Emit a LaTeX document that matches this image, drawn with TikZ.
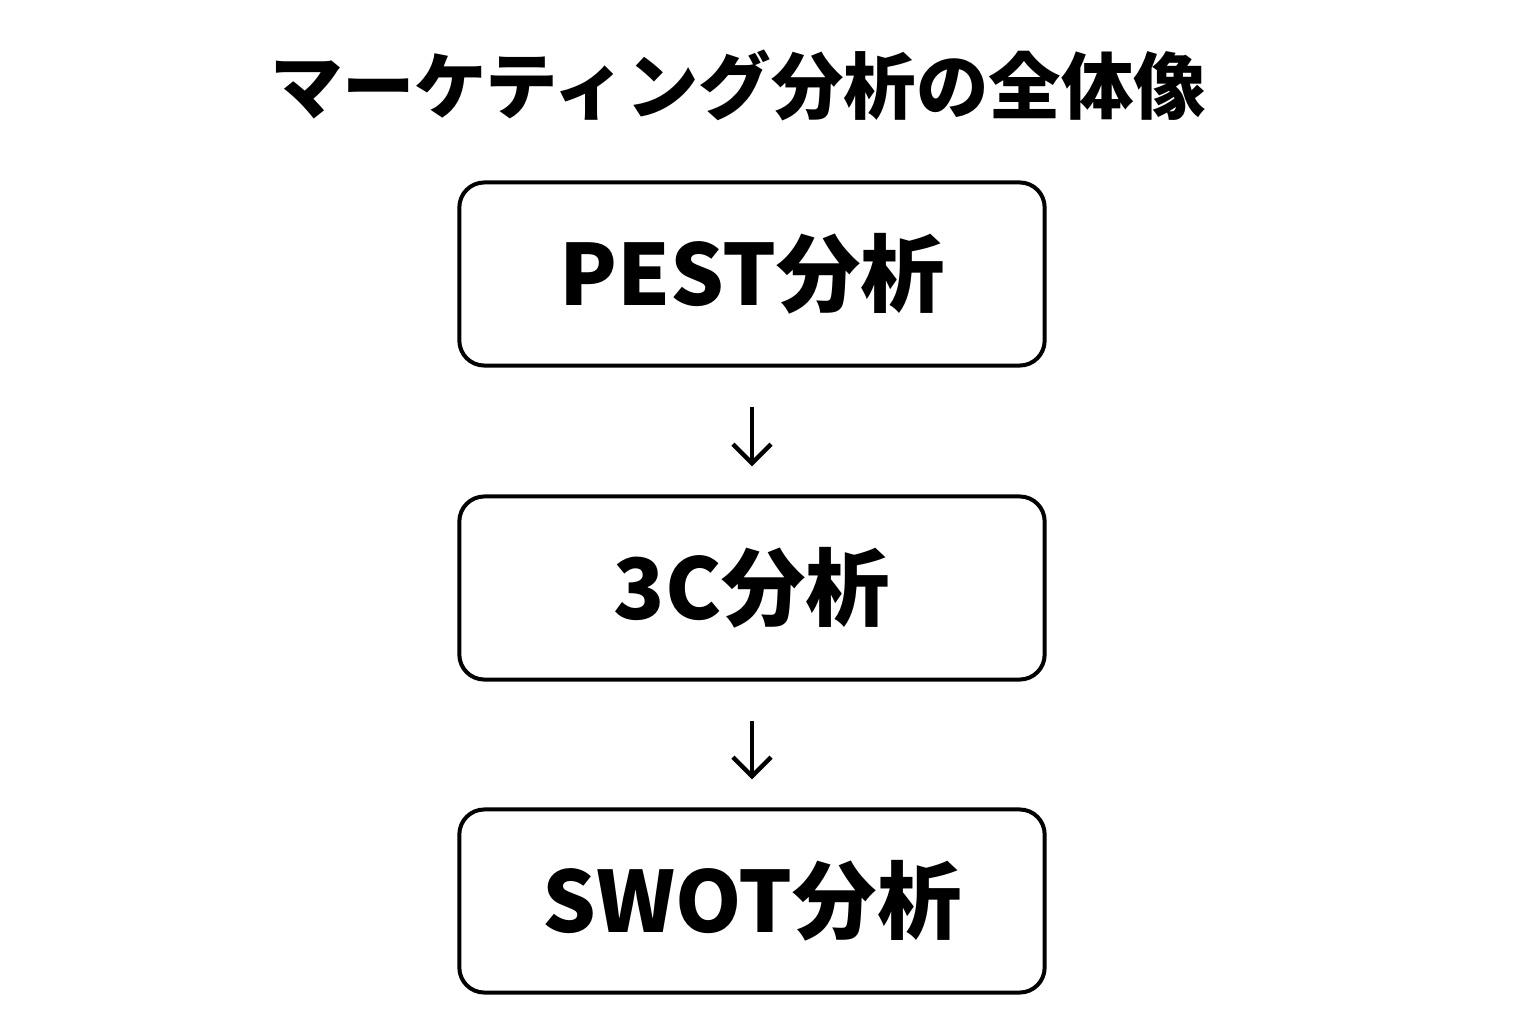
\documentclass[tikz,border=0pt]{standalone}
\usepackage{fontspec}
\setmainfont{Noto Sans CJK JP}
\usetikzlibrary{positioning,arrows.meta}

\begin{document}
\begin{tikzpicture}[
    x=0.01cm, y=-0.01cm,
    stage/.style ={
        draw=black,
        line width=0.04cm,
        rounded corners=0.25cm,
        minimum width=5.85cm,
        minimum height=1.83cm,
        font=\fontsize{24}{29}\selectfont\bfseries
    },
    flow/.style ={
        -{Straight Barb[length=0.19cm,width=0.38cm,line width=0.045cm]},
        line width=0.045cm,
        shorten <=0.39cm,
        shorten >=0.28cm
    }
    ]
    \useasboundingbox (0,0) rectangle (1536,1024);

    \node[font=\fontsize{20.6}{25}\selectfont\bfseries] (title) at (738,85) {マーケティング分析の全体像};
    \node[stage] (pest) at (752,274) {PEST分析};
    \node[stage] (threec) at (752,588) {3C分析};
    \node[stage] (swot) at (752,901) {SWOT分析};

    \foreach \src/ \dst in {pest/threec, threec/swot}
        \draw[flow] (\src) -- (\dst);
\end{tikzpicture}
\end{document}
